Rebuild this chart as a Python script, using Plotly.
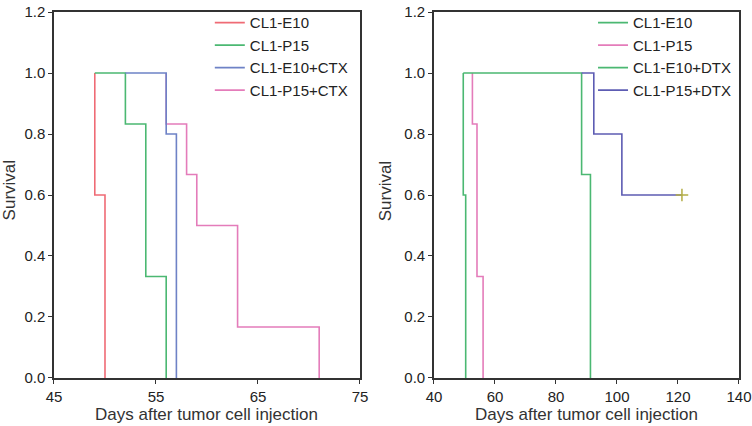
import plotly.graph_objects as go
from plotly.subplots import make_subplots

# left panel: CTX treatment
left_names = ["CL1-E10", "CL1-P15", "CL1-E10+CTX", "CL1-P15+CTX"]
e10_days = [49, 49, 50]
e10_surv = [1.0, 0.6, 0.0]
p15_days = [49, 52, 54, 56]
p15_surv = [1.0, 0.833, 0.333, 0.0]
e10ctx_days = [52, 56, 57]
e10ctx_surv = [1.0, 0.8, 0.0]
p15ctx_days = [56, 56, 58, 59, 63, 71]
p15ctx_surv = [1.0, 0.833, 0.667, 0.5, 0.167, 0.0]

# right panel: DTX treatment
right_names = ["CL1-E10", "CL1-P15", "CL1-E10+DTX", "CL1-P15+DTX"]
r_e10_days = [49.6, 49.6, 50.4]
r_e10_surv = [1.0, 0.6, 0.0]
r_p15_days = [52.6, 52.6, 54.1, 56.1]
r_p15_surv = [1.0, 0.833, 0.333, 0.0]
e10dtx_days = [49.6, 88.4, 91.3]
e10dtx_surv = [1.0, 0.667, 0.0]
p15dtx_days = [88.4, 92.4, 101.6, 121.3]
p15dtx_surv = [1.0, 0.8, 0.6, 0.6]
censor_day = [121.3]
censor_surv = [0.6]

left_ticks = [45, 55, 65, 75]
right_ticks = [40, 60, 80, 100, 120, 140]
y_ticks = [0.0, 0.2, 0.4, 0.6, 0.8, 1.0, 1.2]

RED = "#ef6b75"
GREEN = "#4bb872"
BLUE = "#6e82c6"
PINK = "#e47cba"
PURPLE = "#5d5cb3"

fig = make_subplots(rows=1, cols=2)

def add_line(x, y, name, color, col, legend, rank):
    fig.add_trace(go.Scatter(x=x, y=y, mode="lines", name=name,
                             line=dict(color=color, width=1.6, shape="hv"),
                             legend=legend, legendrank=rank, showlegend=True),
                  row=1, col=col)

# left (pink drawn under blue)
add_line(e10_days, e10_surv, left_names[0], RED, 1, "legend", 1)
add_line(p15_days, p15_surv, left_names[1], GREEN, 1, "legend", 2)
add_line(p15ctx_days, p15ctx_surv, left_names[3], PINK, 1, "legend", 4)
add_line(e10ctx_days, e10ctx_surv, left_names[2], BLUE, 1, "legend", 3)

# right
add_line(r_e10_days, r_e10_surv, right_names[0], GREEN, 2, "legend2", 1)
add_line(r_p15_days, r_p15_surv, right_names[1], PINK, 2, "legend2", 2)
add_line(e10dtx_days, e10dtx_surv, right_names[2], GREEN, 2, "legend2", 3)
add_line(p15dtx_days, p15dtx_surv, right_names[3], PURPLE, 2, "legend2", 4)
fig.add_trace(go.Scatter(x=censor_day, y=censor_surv, mode="markers", showlegend=False,
                         marker=dict(symbol="cross-thin", size=9,
                                     line=dict(color="#b3ad45", width=1.5))),
              row=1, col=2)

axis_style = dict(showline=True, linecolor="#333333", linewidth=1.5, mirror=True,
                  showgrid=False, zeroline=False, ticks="outside", ticklen=4,
                  tickcolor="#333333", automargin=False,
                  tickfont=dict(size=15, color="#222222"))

fig.update_xaxes(**axis_style)
fig.update_yaxes(**axis_style)
fig.update_xaxes(range=[45, 75], tickvals=left_ticks, domain=[0.0718, 0.4787], row=1, col=1)
fig.update_xaxes(range=[40, 140], tickvals=right_ticks, domain=[0.5771, 0.9827], row=1, col=2)
fig.update_yaxes(range=[0, 1.2], tickvals=y_ticks, tickformat=".1f", domain=[0.1127, 0.9718])

legend_style = dict(bgcolor="rgba(0,0,0,0)", font=dict(size=15, color="#222222"),
                    tracegroupgap=0, itemwidth=30, yanchor="top", xanchor="left")

title_font = dict(size=17, color="#333333")
ann = dict(xref="paper", yref="paper", showarrow=False, font=title_font,
           xanchor="center", yanchor="middle")

fig.update_layout(
    width=752, height=426,
    margin=dict(l=0, r=0, t=0, b=0),
    plot_bgcolor="white", paper_bgcolor="white",
    font=dict(family="Liberation Sans, Arial, sans-serif", color="#222222"),
    legend=dict(x=0.279, y=0.985, **legend_style),
    legend2=dict(x=0.7886, y=0.985, **legend_style),
    annotations=[
        dict(text="Survival", x=0.0127, y=0.552, textangle=-90, **ann),
        dict(text="Survival", x=0.5126, y=0.552, textangle=-90, **ann),
        dict(text="Days after tumor cell injection", x=0.274, y=0.027, **ann),
        dict(text="Days after tumor cell injection", x=0.78, y=0.027, **ann),
    ],
)

fig.write_html("out.html", config={"displayModeBar": False},
               post_script="document.body.style.margin='0';")
